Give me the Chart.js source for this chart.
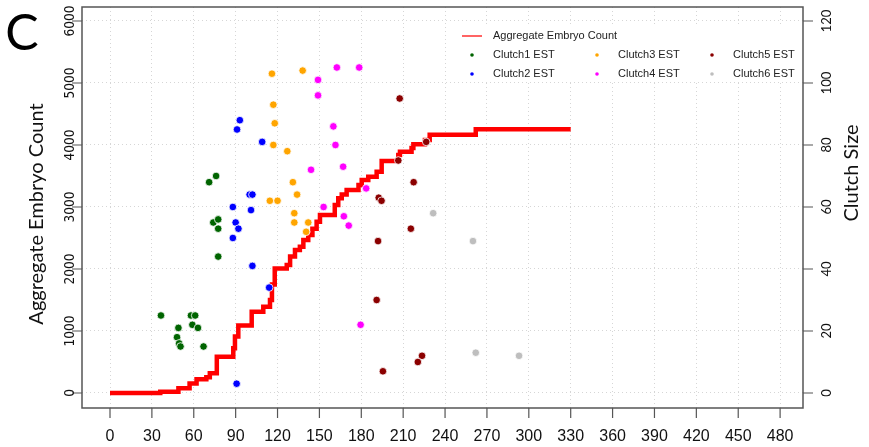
<!DOCTYPE html>
<html>
<head>
<meta charset="utf-8">
<script src="https://cdn.jsdelivr.net/npm/chart.js@4.4.0/dist/chart.umd.min.js"></script>
<style>
html, body { margin: 0; padding: 0; background: #fff; }
</style>
</head>
<body>
<canvas id="embryoChart" width="869" height="447"></canvas>
<script>
// aggregate embryo count (step line, left axis)
const aggDays  = [0, 36, 49, 57, 62, 69, 71.5, 76.5, 88.3, 89.5, 91.9, 101.5, 109.8, 114.6, 116, 118, 126.6, 129, 132.5, 136, 138.5, 142, 145, 148, 150.4, 161, 163.5, 166, 169.5, 178, 180.3, 185, 191, 194.6, 206.5, 207.7, 216, 217.3, 225.6, 229, 262, 330];
const aggCount = [0, 20, 75, 155, 220, 255, 320, 585, 720, 910, 1090, 1310, 1390, 1500, 1750, 2010, 2065, 2200, 2306, 2360, 2468, 2548, 2650, 2763, 2870, 3032, 3140, 3200, 3274, 3355, 3435, 3489, 3570, 3740, 3840, 3890, 3950, 4010, 4080, 4165, 4255, 4255];

// clutch sizes (right axis)
const c1Days = [36.5, 49, 48, 49.5, 50.5, 58, 61, 59, 63, 67, 71, 76, 74, 77.5, 77.5, 77.5];
const c1Size = [25, 21, 18, 16, 15, 25, 25, 22, 21, 15, 68, 70, 55, 56, 53, 44];
const c2Days = [100, 102, 88, 101, 90, 92, 88, 102, 93, 91, 109, 114, 90.7];
const c2Size = [64, 64, 60, 59, 55, 53, 50, 41, 88, 85, 81, 34, 3];
const c3Days = [116, 138, 117, 118, 117, 127, 131, 134, 114.5, 120, 132, 132, 142, 140.5];
const c3Size = [103, 104, 93, 87, 80, 78, 68, 64, 62, 62, 58, 55, 55, 52];
const c4Days = [162.5, 178.5, 149, 149, 160, 161.5, 167, 144, 183.5, 153, 167.5, 171, 179.5];
const c4Size = [105, 105, 101, 96, 86, 80, 73, 72, 66, 60, 57, 54, 22];
const c5Days = [207.5, 226.5, 206.5, 217.5, 192.5, 194.5, 215.5, 192, 191, 223.5, 220.5, 195.5];
const c5Size = [95, 81, 75, 68, 63, 62, 53, 49, 30, 12, 10, 7];
const c6Days = [231.5, 260, 262, 293];
const c6Size = [58, 49, 13, 12];

const xTicks = [0, 30, 60, 90, 120, 150, 180, 210, 240, 270, 300, 330, 360, 390, 420, 450, 480];
const yTicks = [0, 1000, 2000, 3000, 4000, 5000, 6000];
const y2Ticks = [0, 20, 40, 60, 80, 100, 120];

const clutchNames = ["Clutch1 EST", "Clutch2 EST", "Clutch3 EST", "Clutch4 EST", "Clutch5 EST", "Clutch6 EST"];
const clutchColors = ["#006400", "#0000ff", "#ffa500", "#ff00ff", "#8b0000", "#bebebe"];

const zip = (xs, ys) => xs.map((x, i) => ({ x: x, y: ys[i] }));
const clutchData = [[c1Days, c1Size], [c2Days, c2Size], [c3Days, c3Size], [c4Days, c4Size], [c5Days, c5Size], [c6Days, c6Size]];

const scatterSets = clutchData.map((d, i) => ({
    label: clutchNames[i],
    data: zip(d[0], d[1]),
    yAxisID: "y2",
    backgroundColor: clutchColors[i],
    borderColor: "#ffffff",
    borderWidth: 0.8,
    pointRadius: 3.8,
    order: 0
}));

const vText = (ctx, str, x, y) => {
    ctx.save();
    ctx.translate(x, y);
    ctx.rotate(-Math.PI / 2);
    ctx.textAlign = "center";
    ctx.textBaseline = "middle";
    ctx.fillText(str, 0, 0);
    ctx.restore();
};

// box, ticks, labels, titles and legend, R style
const framePlugin = {
    id: "frame",
    afterDraw(chart) {
        const { ctx, chartArea: a, scales } = chart;
        ctx.save();

        // white legend panel
        ctx.fillStyle = "#ffffff";
        ctx.fillRect(447, 24, a.right - 447, 57);

        ctx.strokeStyle = "#555555";
        ctx.lineWidth = 1.5;
        ctx.strokeRect(a.left, a.top, a.right - a.left, a.bottom - a.top);

        ctx.lineWidth = 1.2;
        ctx.fillStyle = "#111111";
        ctx.beginPath();
        xTicks.forEach(v => {
            const x = scales.x.getPixelForValue(v);
            ctx.moveTo(x, a.bottom);
            ctx.lineTo(x, a.bottom + 10);
        });
        yTicks.forEach(v => {
            const y = scales.y.getPixelForValue(v);
            ctx.moveTo(a.left, y);
            ctx.lineTo(a.left - 10, y);
        });
        y2Ticks.forEach(v => {
            const y = scales.y2.getPixelForValue(v);
            ctx.moveTo(a.right, y);
            ctx.lineTo(a.right + 10, y);
        });
        ctx.stroke();

        ctx.font = "16px 'Liberation Sans Narrow', 'Liberation Sans', sans-serif";
        ctx.textAlign = "center";
        ctx.textBaseline = "middle";
        xTicks.forEach(v => ctx.fillText(String(v), scales.x.getPixelForValue(v), 437));

        ctx.font = "13.5px 'DejaVu Sans Condensed', 'DejaVu Sans', sans-serif";
        yTicks.forEach(v => vText(ctx, String(v), 70, scales.y.getPixelForValue(v)));
        ctx.font = "13px Lato, sans-serif";
        y2Ticks.forEach(v => vText(ctx, String(v), 827, scales.y2.getPixelForValue(v)));

        ctx.font = "20px Lato, sans-serif";
        vText(ctx, "Aggregate Embryo Count", 37, 214);
        vText(ctx, "Clutch Size", 852, 173);

        ctx.font = "50px Lato, sans-serif";
        ctx.fillStyle = "#000000";
        ctx.fillText("C", 22, 34);

        // legend
        ctx.fillStyle = "#222222";
        ctx.font = "11px 'Liberation Sans', sans-serif";
        ctx.textAlign = "left";
        ctx.strokeStyle = "#ff3030";
        ctx.lineWidth = 1.5;
        ctx.beginPath();
        ctx.moveTo(462, 36);
        ctx.lineTo(482, 36);
        ctx.stroke();
        ctx.fillText("Aggregate Embryo Count", 493, 36);
        const colX = [472, 597, 712];
        const rowY = [55, 74];
        clutchNames.forEach((name, i) => {
            const cx = colX[Math.floor(i / 2)];
            const cy = rowY[i % 2];
            ctx.fillStyle = clutchColors[i];
            ctx.beginPath();
            ctx.arc(cx, cy, 1.8, 0, Math.PI * 2);
            ctx.fill();
            ctx.fillStyle = "#222222";
            ctx.fillText(name, cx + 21, cy);
        });

        ctx.restore();
    }
};

const ctx = document.getElementById("embryoChart").getContext("2d");
const embryoChart = new Chart(ctx, {
    type: "scatter",
    data: {
        datasets: [{
            label: "Aggregate Embryo Count",
            data: zip(aggDays, aggCount),
            yAxisID: "y",
            showLine: true,
            stepped: true,
            borderColor: "#ff0000",
            borderWidth: 4.5,
            pointRadius: 0,
            fill: false,
            order: 1
        }, ...scatterSets]
    },
    options: {
        responsive: false,
        animation: false,
        devicePixelRatio: 1,
        layout: { padding: { left: 82, right: 66, top: 7, bottom: 39 } },
        plugins: {
            legend: { display: false },
            tooltip: { enabled: false }
        },
        scales: {
            x: {
                type: "linear",
                min: -20.06,
                max: 496.4,
                afterBuildTicks: s => { s.ticks = xTicks.map(v => ({ value: v })); },
                ticks: { display: false },
                grid: { color: "#d6d6d6", lineWidth: 1, drawTicks: false },
                border: { display: false, dash: [1, 3] }
            },
            y: {
                type: "linear",
                position: "left",
                min: -242,
                max: 6225.7,
                afterBuildTicks: s => { s.ticks = yTicks.map(v => ({ value: v })); },
                ticks: { display: false },
                grid: { color: "#d6d6d6", lineWidth: 1, drawTicks: false },
                border: { display: false, dash: [1, 3] }
            },
            y2: {
                type: "linear",
                position: "right",
                min: -4.84,
                max: 124.51,
                afterBuildTicks: s => { s.ticks = y2Ticks.map(v => ({ value: v })); },
                ticks: { display: false },
                grid: { drawOnChartArea: false, drawTicks: false },
                border: { display: false }
            }
        }
    },
    plugins: [framePlugin]
});
</script>
</body>
</html>
